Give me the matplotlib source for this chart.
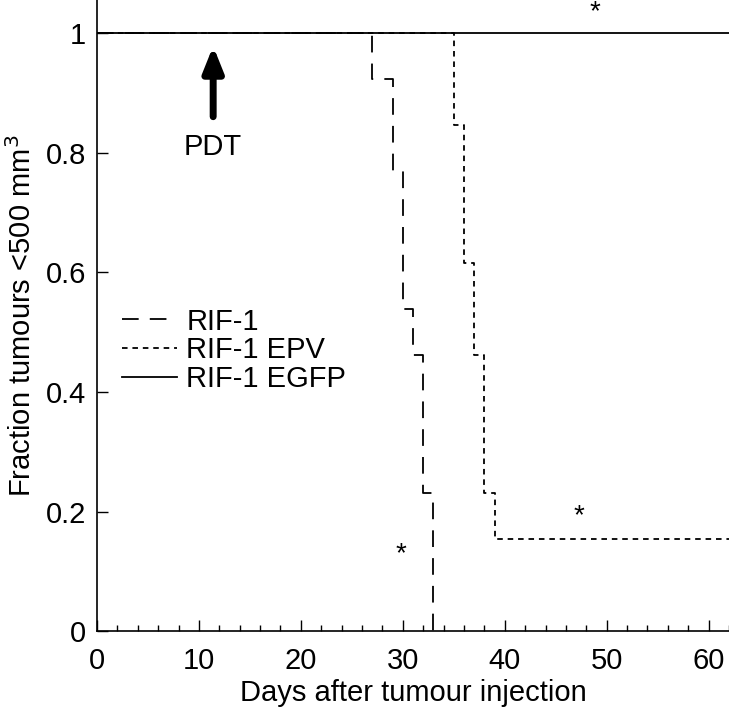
import numpy as np
import matplotlib
matplotlib.use("Agg")
import matplotlib.pyplot as plt
from matplotlib.ticker import MultipleLocator

plt.rcParams['font.family'] = ['Liberation Sans', 'DejaVu Sans']
plt.rcParams['lines.scale_dashes'] = False

# step curves: days at which fraction drops, and fraction after each step
rif1_days = [0, 27, 29, 30, 31, 32, 33]
rif1_frac = [1.0, 12/13, 10/13, 7/13, 6/13, 3/13, 0.0]
epv_days = [0, 35, 36, 37, 38, 39, 62]
epv_frac = [1.0, 11/13, 8/13, 6/13, 3/13, 2/13, 2/13]
egfp_days = [0, 62]
egfp_frac = [1.0, 1.0]

# significance markers
star_x = [48.8, 47.3, 29.8]
star_y = [1.035, 0.192, 0.129]

fig = plt.figure(figsize=(7.29, 7.07), dpi=100)
ax = fig.add_axes([0.133, 0.107, 0.867, 0.893])

ax.step(rif1_days, rif1_frac, where='post', color='k', lw=1.3,
        dashes=(12, 8), label='RIF-1')
ax.step(epv_days, epv_frac, where='post', color='k', lw=1.3,
        dashes=(4, 3.5), label='RIF-1 EPV')
ax.plot(egfp_days, egfp_frac, color='k', lw=1.3, label='RIF-1 EGFP')

for sx, sy in zip(star_x, star_y):
    ax.text(sx, sy, '*', ha='center', va='center', fontsize=20)

# PDT arrow
ax.annotate('', xy=(11.4, 0.978), xytext=(11.4, 0.86),
            arrowprops=dict(arrowstyle='-|>,head_width=0.6,head_length=1.5',
                            lw=5, color='k', shrinkA=0, shrinkB=0))
ax.text(11.4, 0.81, 'PDT', ha='center', va='center', fontsize=21)

ax.set_xlim(0, 62)
ax.set_ylim(0, 1.055)
ax.xaxis.set_major_locator(MultipleLocator(10))
ax.xaxis.set_minor_locator(MultipleLocator(2))
ax.set_yticks([0, 0.2, 0.4, 0.6, 0.8, 1])
ax.set_yticklabels(['0', '0.2', '0.4', '0.6', '0.8', '1'])
ax.tick_params(which='major', direction='in', length=8, width=1, labelsize=21)
ax.tick_params(axis='x', which='major', pad=11)
ax.tick_params(axis='y', which='major', pad=8)
ax.tick_params(which='minor', direction='in', length=4.5, width=1)
for s in ['top', 'right']:
    ax.spines[s].set_visible(False)
for s in ['left', 'bottom']:
    ax.spines[s].set_linewidth(1.2)

ax.set_xlabel('Days after tumour injection', fontsize=21, labelpad=3)
ax.set_ylabel('Fraction tumours <500 mm$^3$', fontsize=21, labelpad=6)

ax.legend(loc='center left', bbox_to_anchor=(0.0, 0.445), frameon=False,
          fontsize=21, handlelength=1.9, handletextpad=0.31, labelspacing=0.03,
          borderaxespad=0.45)

fig.savefig('out.png', dpi=100)
